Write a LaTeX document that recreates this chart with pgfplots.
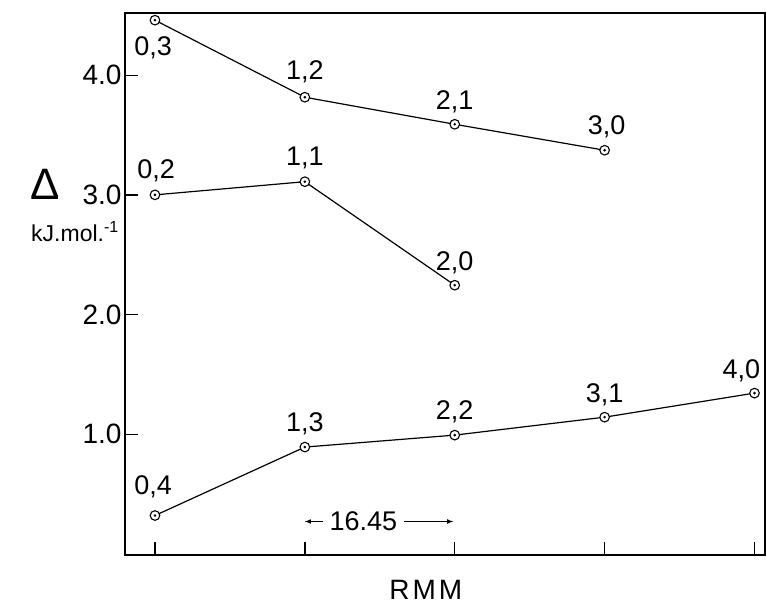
\documentclass[border=0pt]{standalone}
\usepackage{fontspec}
\setmainfont{Liberation Sans}
\usepackage{pgfplots}
\pgfplotsset{compat=1.18}
\pgfdeclareplotmark{circdot}{%
  \pgfpathcircle{\pgfpointorigin}{\pgfplotmarksize}%
  \pgfsetfillcolor{white}\pgfusepathqfillstroke
  \pgfpathcircle{\pgfpointorigin}{0.3\pgfplotmarksize}%
  \pgfsetfillcolor{black}\pgfusepathqfill}
\tikzset{lbl/.style={font=\fontsize{27}{30}\selectfont, anchor=center, inner sep=0pt}}
\pgfplotsset{ser/.style={black, line width=1.2pt, mark=circdot, mark size=4.8pt, mark options={line width=1.1pt, solid}}}
\begin{document}
\begin{tikzpicture}
\path[use as bounding box] (-125pt,-51pt) rectangle (641pt,555pt);
\begin{axis}[
  scale only axis, width=640pt, height=542pt,
  xmin=-0.2, xmax=4.07, ymin=-0.01, ymax=4.52,
  clip=false,
  axis line style={line width=1.6pt},
  xtick={0,1,2,3,4}, xticklabels={},
  ytick={1,2,3,4},
  xtick pos=bottom, ytick pos=left,
  tick align=inside, major tick length=13pt,
  tick style={line width=1.3pt, black},
  tick label style={font=\fontsize{28}{30}\selectfont},
  yticklabel style={/pgf/number format/.cd, fixed, fixed zerofill, precision=1, assume math mode=true},
]
\addplot[ser] coordinates {(0,4.46) (1,3.816) (2,3.59) (3,3.373)};
\addplot[ser] coordinates {(0,3.0) (1,3.11) (2,2.245)};
\addplot[ser] coordinates {(0,0.32) (1,0.892) (2,0.992) (3,1.142) (4,1.343)};
\node[lbl] at (axis cs:-0.013,4.225) {0,3};
\node[lbl] at (axis cs:1,4.025) {1,2};
\node[lbl] at (axis cs:2,3.775) {2,1};
\node[lbl] at (axis cs:3.013,3.567) {3,0};
\node[lbl] at (axis cs:0.007,3.2) {0,2};
\node[lbl] at (axis cs:1,3.308) {1,1};
\node[lbl] at (axis cs:2,2.433) {2,0};
\node[lbl] at (axis cs:-0.013,0.558) {0,4};
\node[lbl] at (axis cs:1,1.083) {1,3};
\node[lbl] at (axis cs:2,1.183) {2,2};
\node[lbl] at (axis cs:3,1.333) {3,1};
\node[lbl] at (axis cs:3.913,1.533) {4,0};
\draw[<-, >=latex, line width=1.1pt] (axis cs:1.0,0.27) -- (axis cs:1.12,0.27);
\node[lbl] at (axis cs:1.39,0.27) {16.45};
\draw[->, >=latex, line width=1.1pt] (axis cs:1.66,0.27) -- (axis cs:1.99,0.27);
\node[lbl, font=\fontsize{28}{30}\selectfont] at (rel axis cs:0.47,-0.064) {R\hspace{3pt}M\hspace{3pt}M};
\node[lbl, font=\fontsize{44}{48}\selectfont] at (rel axis cs:-0.125,0.683) {Δ};
\node[lbl, font=\fontsize{23}{26}\selectfont] at (rel axis cs:-0.078,0.596) {kJ.mol.\textsuperscript{-1}};
\end{axis}
\end{tikzpicture}
\end{document}
